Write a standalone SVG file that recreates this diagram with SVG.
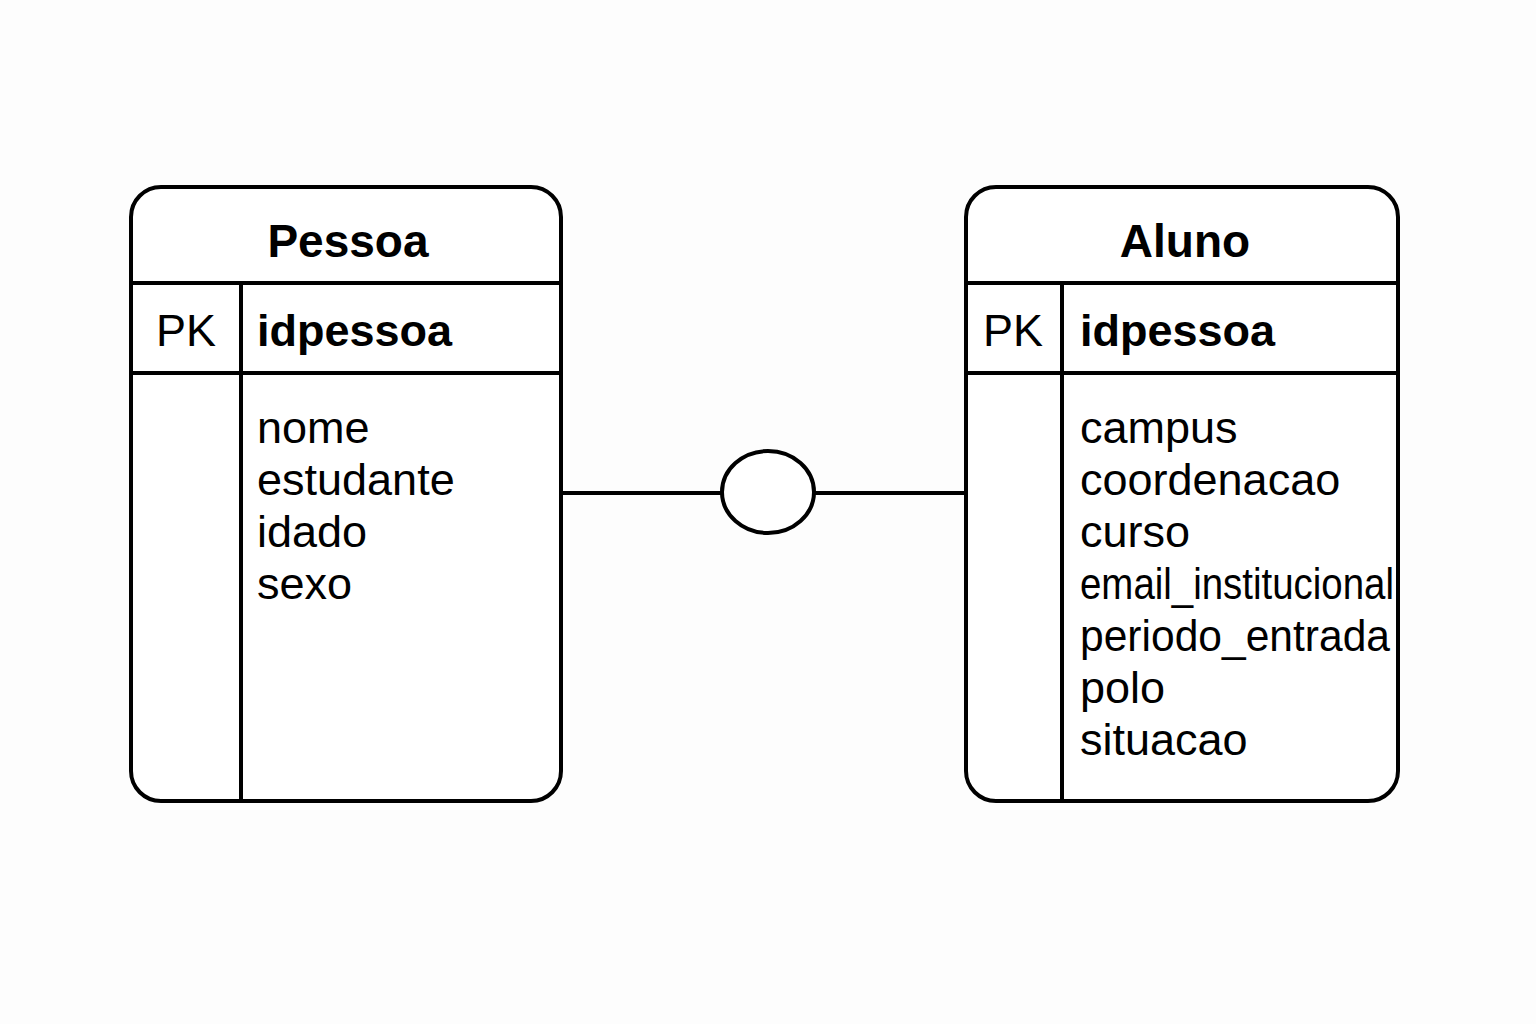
<svg xmlns="http://www.w3.org/2000/svg" width="1536" height="1024" viewBox="0 0 1536 1024">
<style>
.box{fill:#fff;stroke:#000;stroke-width:4}
.ln{stroke:#000;stroke-width:4;fill:none}
.t{font-family:"Liberation Sans",Arial,sans-serif;font-size:45px;fill:#000}
.b{font-weight:bold}
.h{font-family:"Liberation Sans",Arial,sans-serif;font-size:46px;font-weight:bold;fill:#000;text-anchor:middle}
</style>
<rect width="1536" height="1024" fill="#fdfdfd"/>
<g id="connectors">
<line class="ln" x1="563" y1="493" x2="722" y2="493"/>
<ellipse class="box" cx="768" cy="492" rx="46" ry="41"/>
<line class="ln" x1="814" y1="493" x2="966" y2="493"/>
</g>
<g id="pessoa">
<rect class="box" x="131" y="187" width="430" height="614" rx="30"/>
<line class="ln" x1="131" y1="283" x2="561" y2="283"/>
<line class="ln" x1="131" y1="373" x2="561" y2="373"/>
<line class="ln" x1="241" y1="283" x2="241" y2="801"/>
<text class="h" x="348" y="257">Pessoa</text>
<text class="t" x="156" y="346">PK</text>
<text class="t b" x="257" y="346">idpessoa</text>
<text class="t" x="257" y="443">nome</text>
<text class="t" x="257" y="495">estudante</text>
<text class="t" x="257" y="547">idado</text>
<text class="t" x="257" y="599">sexo</text>
</g>
<g id="aluno">
<rect class="box" x="966" y="187" width="432" height="614" rx="30"/>
<line class="ln" x1="966" y1="283" x2="1398" y2="283"/>
<line class="ln" x1="966" y1="373" x2="1398" y2="373"/>
<line class="ln" x1="1062" y1="283" x2="1062" y2="801"/>
<text class="h" x="1185" y="257">Aluno</text>
<text class="t" x="983" y="346">PK</text>
<text class="t b" x="1080" y="346">idpessoa</text>
<text class="t" x="1080" y="443">campus</text>
<text class="t" x="1080" y="495">coordenacao</text>
<text class="t" x="1080" y="547">curso</text>
<text class="t" x="1080" y="599" textLength="314" lengthAdjust="spacingAndGlyphs">email_institucional</text>
<text class="t" x="1080" y="651" textLength="310" lengthAdjust="spacingAndGlyphs">periodo_entrada</text>
<text class="t" x="1080" y="703">polo</text>
<text class="t" x="1080" y="755">situacao</text>
</g>
</svg>
